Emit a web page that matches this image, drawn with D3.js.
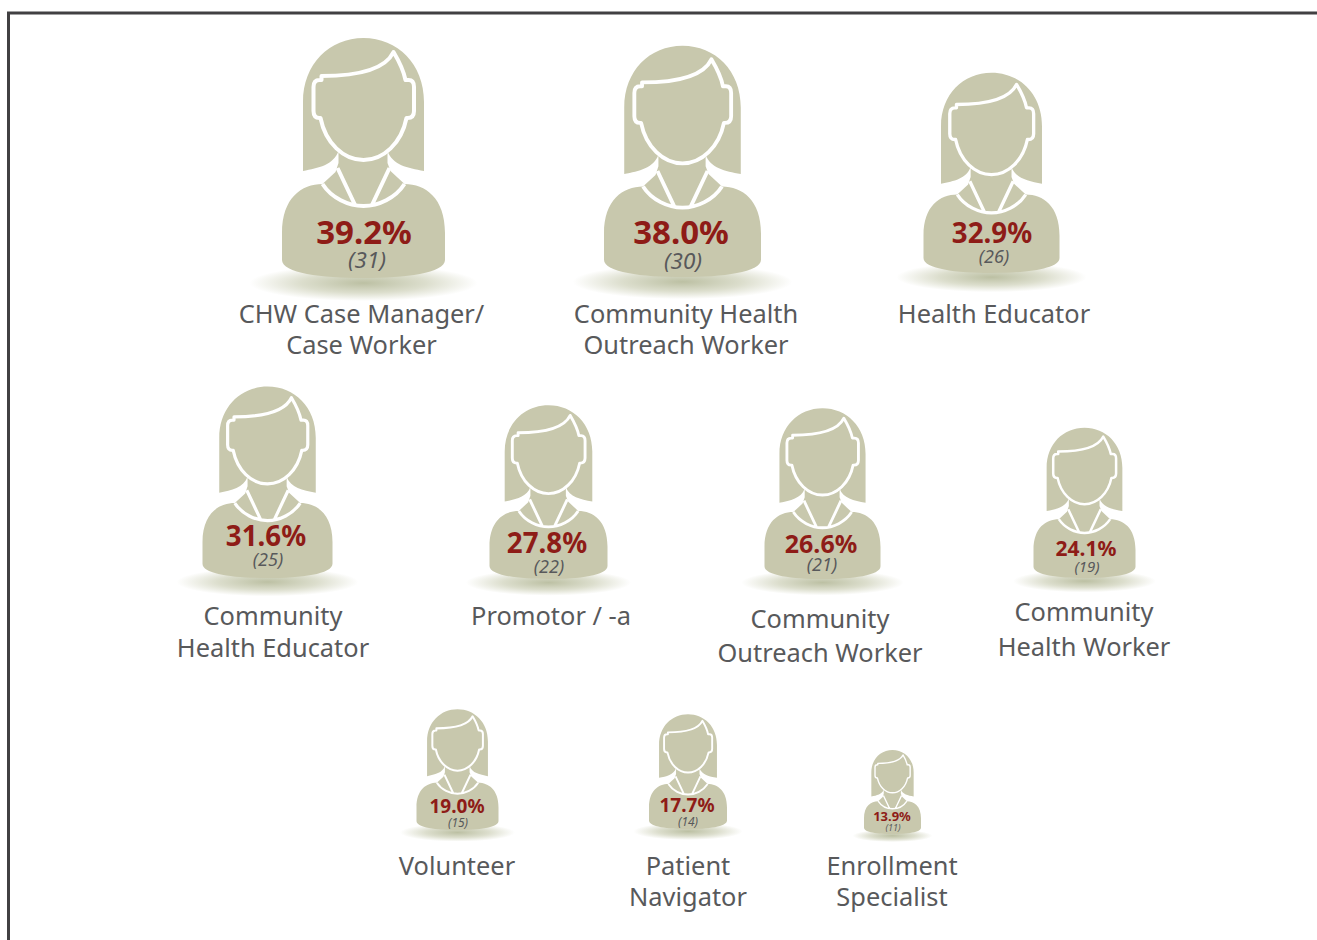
<!DOCTYPE html>
<html>
<head>
<meta charset="utf-8">
<title>CHW job titles</title>
<script src="https://cdn.jsdelivr.net/npm/d3@7"></script>
<style>
  html, body { margin: 0; padding: 0; background: #fff; }
  svg { display: block; }
  text { font-family: "Noto Sans", sans-serif; }
</style>
</head>
<body>
<div id="chart"></div>
<script>
const roles = [
  "CHW Case Manager/|Case Worker",
  "Community Health|Outreach Worker",
  "Health Educator",
  "Community|Health Educator",
  "Promotor / -a",
  "Community|Outreach Worker",
  "Community|Health Worker",
  "Volunteer",
  "Patient|Navigator",
  "Enrollment|Specialist"
];
const percents = [39.2, 38.0, 32.9, 31.6, 27.8, 26.6, 24.1, 19.0, 17.7, 13.9];
const counts = [31, 30, 26, 25, 22, 21, 19, 15, 14, 11];

const width = 1317, height = 940;

// hand placed, the icons do not sit on a regular grid
const iconX = d3.scaleOrdinal().domain(roles).range([363.5, 682.5, 991.5, 267.5, 548.5, 822.5, 1084.5, 457.5, 688, 892.5]);
const iconY = d3.scaleOrdinal().domain(roles).range([278, 277, 273, 578, 579, 579, 578, 830, 829, 834]);
const iconSize = d3.scaleOrdinal().domain(roles).range([163, 157, 136, 130, 118, 116, 102, 82, 78, 57]);
const pctX = d3.scaleOrdinal().domain(roles).range([364, 681, 992, 266, 547, 821, 1086, 457, 687, 892]);
const pctY = d3.scaleOrdinal().domain(roles).range([244, 244, 243, 546, 553, 553, 556, 813, 812, 821]);
const countX = d3.scaleOrdinal().domain(roles).range([367, 683, 994, 268, 549, 822, 1087, 458, 688, 893]);
const countY = d3.scaleOrdinal().domain(roles).range([268, 269, 263, 566, 573, 571, 572, 827, 826, 831]);
const labelX = d3.scaleOrdinal().domain(roles).range([361.5, 686, 994, 273, 551, 820, 1084, 457, 688, 892]);
const labelY = d3.scaleOrdinal().domain(roles).range([323, 323, 323, 625, 625, 628, 621, 875, 875, 875]);
const labelGap = d3.scaleOrdinal().domain(roles).range([31, 31, 31, 32, 32, 34, 35, 31, 31, 31]);

const pctSize = d3.scaleThreshold().domain([15, 20, 25, 27, 35]).range([13, 19, 21, 25, 27.7, 33]);
const countSize = d3.scaleThreshold().domain([15, 20, 25, 35]).range([9, 12, 15, 18, 22.5]);

// icon outlines, origin at the bottom centre, drawn 163 wide
const hairPath = "M-60.5,-107 L-60.5,-176 C-60.5,-214 -34,-240 0,-240 C34,-240 60.5,-214 60.5,-176 L60.5,-107 C44,-110 29,-113 24,-127 L-25,-127 C-30,-113 -45,-110 -60.5,-107 Z";
const bodyPath = "M-41,-94 L-28,-106 L-25,-115 L-25,-128 L24,-128 L24,-115 L27,-107 L41,-94 C62,-94 81.5,-80 81.5,-45 L81.5,-18 C81.5,-5 42,0 0,0 C-42,0 -81.5,-5 -81.5,-18 L-81.5,-45 C-81.5,-80 -62,-94 -41,-94 Z";
const facePath = "M-42,-202 C-15,-202 20,-205 30,-226 C36,-216 40,-208 42,-198 L45,-198 Q50.5,-198 50.5,-191 L50.5,-167 Q50.5,-160 44,-160 L43,-160 C38,-135 20,-118 0,-118 C-20,-118 -38,-135 -43,-160 L-44,-160 Q-50,-160 -50,-167 L-50,-191 Q-50,-198 -44,-198 L-42,-198 Z";
const collarPath = "M-41,-94 C-32,-80 -15,-72 0,-72 C15,-72 32,-80 41,-94 M-26,-110 L-8,-72 M26,-110 L8,-72";

const svg = d3.select("#chart")
  .append("svg")
  .attr("width", width)
  .attr("height", height);

const grad = svg.append("defs").append("radialGradient").attr("id", "shadow");
grad.append("stop").attr("offset", "0%").attr("stop-color", "#bcc0a3");
grad.append("stop").attr("offset", "55%").attr("stop-color", "#dcdecd");
grad.append("stop").attr("offset", "100%").attr("stop-color", "#ffffff");

// frame, open on the right and the bottom
svg.append("path")
  .attr("d", d3.line()([[8.5, height], [8.5, 13], [width, 13]]))
  .attr("fill", "none")
  .attr("stroke", "#414042")
  .attr("stroke-width", 3);

const people = svg.selectAll("g.person")
  .data(roles)
  .join("g")
  .attr("class", "person");

const icons = people.append("g")
  .attr("transform", d => `translate(${iconX(d)},${iconY(d)}) scale(${iconSize(d) / 163})`);

icons.append("ellipse")
  .attr("cx", 0)
  .attr("cy", 5)
  .attr("rx", 114)
  .attr("ry", 18)
  .attr("fill", "url(#shadow)");

icons.append("path").attr("d", hairPath).attr("fill", "#c8c8ad");
icons.append("path").attr("d", bodyPath).attr("fill", "#c8c8ad");
icons.append("path").attr("d", facePath)
  .attr("fill", "#c8c8ad")
  .attr("stroke", "#fff")
  .attr("stroke-width", 4)
  .attr("stroke-linejoin", "round");
icons.append("path").attr("d", collarPath)
  .attr("fill", "none")
  .attr("stroke", "#fff")
  .attr("stroke-width", 4);

people.append("text")
  .attr("x", d => pctX(d))
  .attr("y", d => pctY(d))
  .attr("text-anchor", "middle")
  .attr("font-weight", 700)
  .attr("font-size", (d, i) => pctSize(percents[i]))
  .attr("fill", "#8e1c17")
  .text((d, i) => d3.format(".1f")(percents[i]) + "%");

people.append("text")
  .attr("x", d => countX(d))
  .attr("y", d => countY(d))
  .attr("text-anchor", "middle")
  .attr("font-style", "italic")
  .attr("font-size", (d, i) => countSize(percents[i]))
  .attr("fill", "#58595b")
  .text((d, i) => `(${counts[i]})`);

people.append("text")
  .attr("text-anchor", "middle")
  .attr("font-size", 25.4)
  .attr("fill", "#58595b")
  .selectAll("tspan")
  .data(d => d.split("|").map((line, k) => ({ line, k, role: d })))
  .join("tspan")
  .attr("x", d => labelX(d.role))
  .attr("y", d => labelY(d.role) + d.k * labelGap(d.role))
  .text(d => d.line);
</script>
</body>
</html>
